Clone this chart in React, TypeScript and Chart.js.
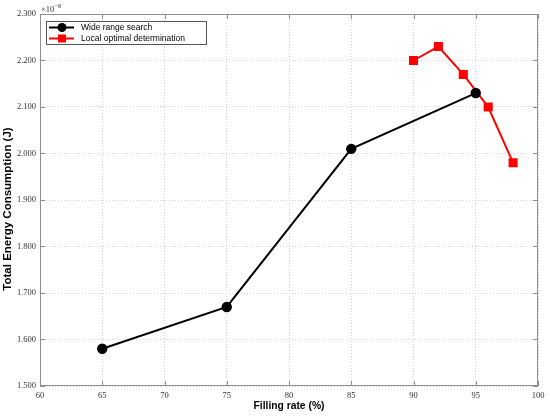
import React, { useEffect, useRef } from "react";
import { Chart, registerables } from "chart.js";

Chart.register(...registerables);

const xTickValues = [60, 65, 70, 75, 80, 85, 90, 95, 100];
const yTickValues = [1.5, 1.6, 1.7, 1.8, 1.9, 2.0, 2.1, 2.2, 2.3];

const wideX = [65, 75, 85, 95];
const wideY = [1.58, 1.67, 2.01, 2.13];

const localX = [90, 92, 94, 96, 98];
const localY = [2.2, 2.23, 2.17, 2.1, 1.98];

const seriesNames = ["Wide range search", "Local optimal determination"];
const seriesColors = ["#000000", "#ff0000"];

const xTitle = "Filling rate (%)";
const yTitle = "Total Energy Consumption (J)";

const TICK_FONT = "'Liberation Serif', 'Times New Roman', serif";
const SANS = "'Liberation Sans', Arial, sans-serif";

const framePlugin = {
  id: "frameTicks",
  beforeDatasetsDraw(chart: any) {
    const { ctx, chartArea } = chart;
    const { left, right, top, bottom } = chartArea;
    const xs = chart.scales.x;
    const ys = chart.scales.y;
    ctx.save();
    ctx.strokeStyle = "#8f8f8f";
    ctx.lineWidth = 1;
    ctx.beginPath();
    ctx.rect(left + 0.5, top + 0.5, right - left - 1, bottom - top - 1);
    ctx.stroke();
    const len = 5;
    ctx.beginPath();
    xs.ticks.forEach((t: any) => {
      const px = Math.round(xs.getPixelForValue(t.value)) + 0.5;
      ctx.moveTo(px, bottom);
      ctx.lineTo(px, bottom - len);
      ctx.moveTo(px, top);
      ctx.lineTo(px, top + len);
    });
    ys.ticks.forEach((t: any) => {
      const py = Math.round(ys.getPixelForValue(t.value)) + 0.5;
      ctx.moveTo(left, py);
      ctx.lineTo(left + len, py);
      ctx.moveTo(right, py);
      ctx.lineTo(right - len, py);
    });
    ctx.stroke();
    // exponent label
    ctx.fillStyle = "#333";
    ctx.textBaseline = "alphabetic";
    ctx.textAlign = "left";
    ctx.font = `8.5px ${TICK_FONT}`;
    ctx.fillText("\u00d710", left + 1, top - 2);
    const w = ctx.measureText("\u00d710").width;
    ctx.font = `6.5px ${TICK_FONT}`;
    ctx.fillText("\u22126", left + 1 + w, top - 6);
    // y axis title
    ctx.save();
    ctx.translate(7.5, (top + bottom) / 2 + 9);
    ctx.rotate(-Math.PI / 2);
    ctx.fillStyle = "#000";
    ctx.font = `bold 11.5px ${SANS}`;
    ctx.textAlign = "center";
    ctx.textBaseline = "middle";
    ctx.fillText(yTitle, 0, 0);
    ctx.restore();
    ctx.restore();
  },
};

const legendPlugin = {
  id: "boxLegend",
  afterDraw(chart: any) {
    const { ctx, chartArea } = chart;
    const x0 = chartArea.left + 6;
    const y0 = chartArea.top + 7;
    const w = 161;
    const h = 24;
    ctx.save();
    ctx.fillStyle = "#ffffff";
    ctx.fillRect(x0, y0, w, h);
    ctx.strokeStyle = "#555";
    ctx.lineWidth = 1;
    ctx.strokeRect(x0 + 0.5, y0 + 0.5, w - 1, h - 1);
    chart.data.datasets.forEach((ds: any, i: number) => {
      const cy = y0 + 6.5 + i * 11;
      ctx.strokeStyle = ds.borderColor;
      ctx.lineWidth = 2;
      ctx.beginPath();
      ctx.moveTo(x0 + 3, cy);
      ctx.lineTo(x0 + 28, cy);
      ctx.stroke();
      ctx.fillStyle = ds.pointBackgroundColor;
      const mx = x0 + 16;
      if (ds.pointStyle === "rect") {
        ctx.fillRect(mx - 4, cy - 4, 8, 8);
      } else {
        ctx.beginPath();
        ctx.arc(mx, cy, 4.5, 0, Math.PI * 2);
        ctx.fill();
      }
      ctx.fillStyle = "#000";
      ctx.font = `8.5px ${SANS}`;
      ctx.textAlign = "left";
      ctx.textBaseline = "middle";
      ctx.fillText(ds.label, x0 + 35, cy);
    });
    ctx.restore();
  },
};

export default function App() {
  const canvasRef = useRef<HTMLCanvasElement | null>(null);

  useEffect(() => {
    document.body.style.margin = "0";
    const canvas = canvasRef.current;
    if (!canvas) return;
    const chart = new Chart(canvas, {
      type: "line",
      data: {
        datasets: [
          {
            label: seriesNames[0],
            data: wideX.map((x, i) => ({ x, y: wideY[i] })),
            borderColor: seriesColors[0],
            backgroundColor: seriesColors[0],
            pointBackgroundColor: seriesColors[0],
            pointBorderColor: seriesColors[0],
            pointStyle: "circle",
            pointRadius: 4.2,
            borderWidth: 2,
            tension: 0,
          },
          {
            label: seriesNames[1],
            data: localX.map((x, i) => ({ x, y: localY[i] })),
            borderColor: seriesColors[1],
            backgroundColor: seriesColors[1],
            pointBackgroundColor: seriesColors[1],
            pointBorderColor: seriesColors[1],
            pointStyle: "rect",
            pointRadius: 5,
            borderWidth: 2,
            tension: 0,
          },
        ],
      },
      options: {
        animation: false,
        responsive: false,
        devicePixelRatio: 1,
        layout: { padding: { top: 14, right: 12, left: 0, bottom: 0 } },
        plugins: {
          legend: { display: false },
          tooltip: { enabled: false },
        },
        scales: {
          x: {
            type: "linear",
            min: 60,
            max: 100,
            afterBuildTicks: (s: any) => {
              s.ticks = xTickValues.map((v) => ({ value: v }));
            },
            afterFit: (s: any) => {
              s.height = 30;
            },
            grid: {
              color: "#d4d4d4",
              lineWidth: 1,
              drawTicks: false,
            },
            border: { display: false, dash: [1, 2] },
            ticks: {
              padding: 5,
              color: "#333",
              font: { family: TICK_FONT, size: 8.5 },
              callback: (v: any) => String(v),
            },
            title: {
              display: true,
              text: xTitle,
              color: "#000",
              font: { family: SANS, size: 10.3, weight: "bold" },
              padding: { top: 0, bottom: 4 },
            },
          },
          y: {
            type: "linear",
            min: 1.5,
            max: 2.3,
            afterBuildTicks: (s: any) => {
              s.ticks = yTickValues.map((v) => ({ value: v }));
            },
            afterFit: (s: any) => {
              s.width = 40;
            },
            grid: {
              color: "#d4d4d4",
              lineWidth: 1,
              drawTicks: false,
            },
            border: { display: false, dash: [1, 2] },
            ticks: {
              padding: 4,
              color: "#333",
              font: { family: TICK_FONT, size: 8.5 },
              callback: (v: any) => Number(v).toFixed(3),
            },
            title: { display: false },
          },
        },
      },
      plugins: [framePlugin, legendPlugin],
    } as any);
    return () => chart.destroy();
  }, []);

  return (
    <div style={{ width: 550, height: 416, background: "#fff" }}>
      <canvas ref={canvasRef} width={550} height={416} style={{ display: "block" }} />
    </div>
  );
}
